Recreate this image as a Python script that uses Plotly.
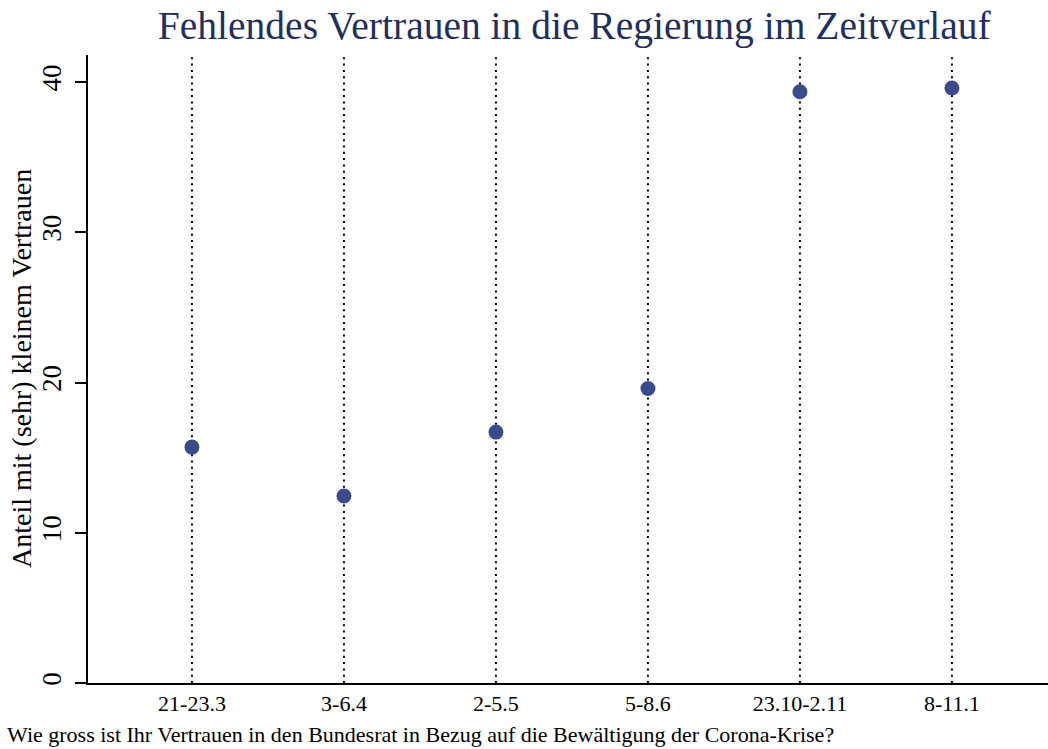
import plotly.graph_objects as go

categories = ["21-23.3", "3-6.4", "2-5.5", "5-8.6", "23.10-2.11", "8-11.1"]
values = [15.7, 12.45, 16.7, 19.6, 39.35, 39.6]
y_ticks = [0, 10, 20, 30, 40]

FONT = "Liberation Serif, Times New Roman, serif"

fig = go.Figure()
fig.add_trace(go.Scatter(
    x=list(range(len(categories))), y=values, mode="markers",
    marker=dict(size=15, color="#3b4a8b", line=dict(width=0)),
    showlegend=False, hoverinfo="skip",
))

for i in range(len(categories)):
    fig.add_shape(type="line", xref="x", yref="paper", x0=i, x1=i, y0=0, y1=1,
                  line=dict(color="black", width=2, dash="2px,4.3px"), layer="below")

fig.update_layout(
    width=1048, height=749,
    margin=dict(l=88, r=0, t=55, b=66),
    paper_bgcolor="white", plot_bgcolor="white",
    font=dict(family=FONT, size=22, color="black"),
    title=dict(text="Fehlendes Vertrauen in die Regierung im Zeitverlauf",
               font=dict(family=FONT, size=39.5, color="#1f2f5e"),
               x=0.548, xanchor="center", y=0.948, yanchor="bottom", yref="container"),
    xaxis=dict(
        range=[-0.684, 5.632], tickmode="array",
        tickvals=list(range(len(categories))), ticktext=categories,
        showgrid=False, zeroline=False, showline=True, linecolor="black", linewidth=2,
        ticks="", tickfont=dict(size=22),
    ),
    yaxis=dict(
        range=[0, 41.8], tickmode="array", tickvals=y_ticks,
        showgrid=False, zeroline=False, showline=True, linecolor="black", linewidth=2,
        ticks="outside", ticklen=11, tickwidth=2, tickcolor="black",
        tickangle=-90, tickfont=dict(size=27), ticklabelstandoff=3,
    ),
    annotations=[
        dict(
            text="Anteil mit (sehr) kleinem Vertrauen", textangle=-90,
            xref="paper", yref="paper", x=0, xshift=-67, y=0.5, yshift=0,
            xanchor="center", yanchor="middle", showarrow=False, font=dict(size=28),
        ),
        dict(
            text="Wie gross ist Ihr Vertrauen in den Bundesrat in Bezug auf die Bewältigung der Corona-Krise?",
            xref="paper", yref="paper", x=0, xshift=-83, y=0, yshift=-37,
            xanchor="left", yanchor="top", showarrow=False, font=dict(size=22),
        ),
    ],
)

fig.write_html("out.html", config={"displayModeBar": False},
               post_script="document.body.style.margin='0';")
